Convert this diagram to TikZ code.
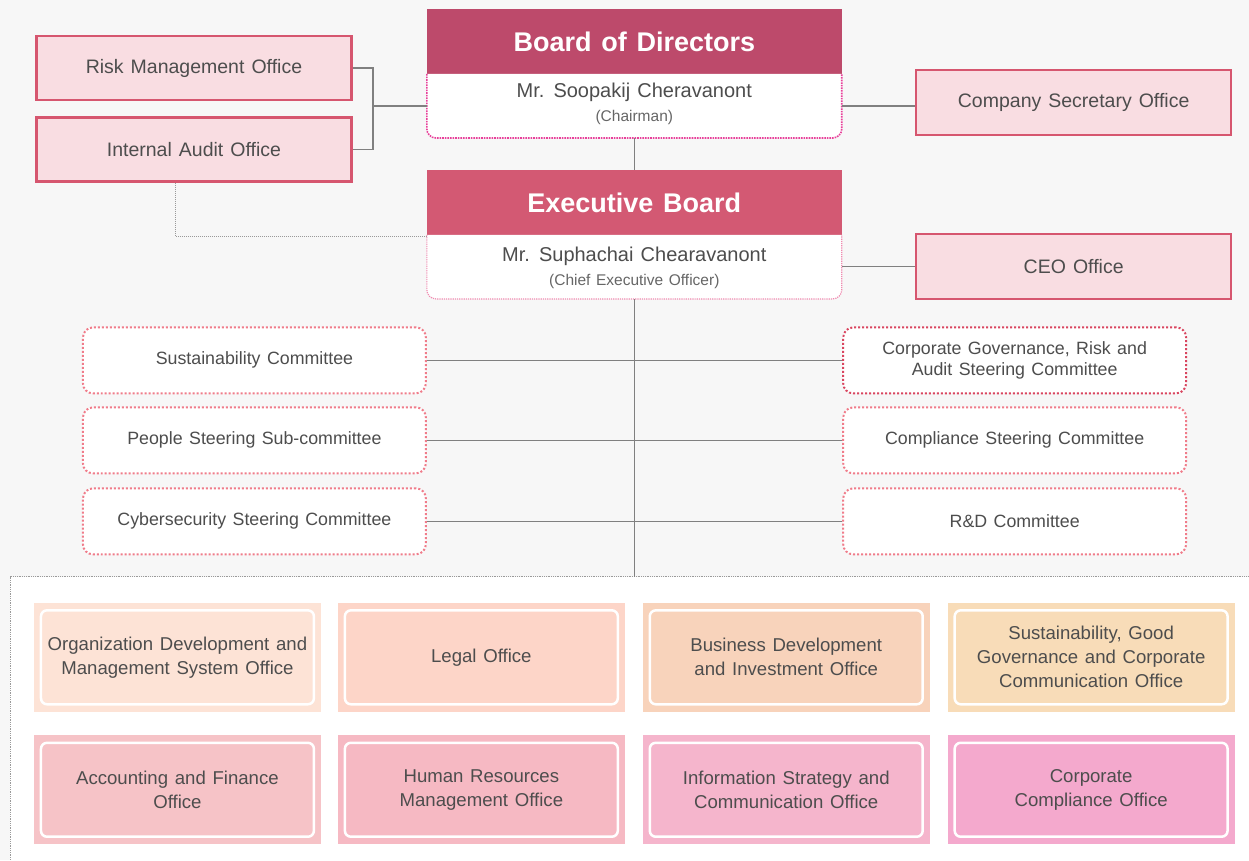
\documentclass[tikz,border=0pt]{standalone}
\usepackage{fontspec}
\setmainfont{Liberation Sans}[WordSpace=1.3]
\definecolor{bgtop}{HTML}{F7F7F7}
\definecolor{txt}{HTML}{4D4D4D}
\definecolor{txtl}{HTML}{666666}
\definecolor{bodc}{HTML}{BD4A6B}
\definecolor{exc}{HTML}{D35973}
\definecolor{offfill}{HTML}{F9DDE2}
\definecolor{offdraw}{HTML}{D6566F}
\definecolor{linec}{HTML}{808080}
\definecolor{dotpink}{HTML}{E8409A}
\definecolor{dotpinkl}{HTML}{F08AB0}
\definecolor{comdot}{HTML}{F07C8A}
\definecolor{comdotd}{HTML}{D9455F}
\definecolor{ra}{HTML}{FDE3D6}
\definecolor{rb}{HTML}{FDD5C8}
\definecolor{rc}{HTML}{F8D3BB}
\definecolor{rd}{HTML}{F8DCB8}
\definecolor{sa}{HTML}{F6C3C7}
\definecolor{sb}{HTML}{F6B9C3}
\definecolor{sc}{HTML}{F5B5CC}
\definecolor{sd}{HTML}{F4A9CD}
\begin{document}
\begin{tikzpicture}[x=1pt,y=-1pt,
  header/.style={minimum width=415pt,minimum height=65pt,inner sep=0pt,text=white,
    font=\fontsize{27}{31}\selectfont\bfseries},
  office/.style={draw=offdraw,line width=2.5pt,fill=offfill,minimum width=315pt,minimum height=64pt,
    inner sep=0pt,text=txt,font=\fontsize{19.5}{23}\selectfont},
  comm/.style={draw=comdot,line width=2pt,dotted,rounded corners=10pt,fill=white,
    minimum width=343pt,minimum height=66pt,inner sep=0pt,text=txt,align=center,
    font=\fontsize{17.8}{21}\selectfont},
  conn/.style={draw=linec,line width=1.3pt},
  unit/.style={minimum width=287pt,minimum height=109pt,inner sep=0pt},
  unitin/.style={draw=white,line width=2.5pt,rounded corners=6pt,minimum width=273pt,
    minimum height=94pt,inner sep=0pt,text=txt,align=center,font=\fontsize{18.6}{24}\selectfont},
  pname/.style={text=txt,font=\fontsize{20}{24}\selectfont,inner sep=0pt},
  prole/.style={text=txtl,font=\fontsize{15.5}{18}\selectfont,inner sep=0pt}
]
% backgrounds
\fill[bgtop] (0,0) rectangle (1249,860);
\fill[white] (10,577) rectangle (1249,860);
\draw[linec!80,line width=0.8pt,densely dotted] (10,860) -- (10,577) -- (1249,577);
\useasboundingbox (0,0) rectangle (1249,860);

% Board of Directors
\node[header,fill=bodc] (bod) at (634.5,41.5) {Board of Directors};
\filldraw[fill=white,draw=dotpink,line width=1.6pt,densely dotted,rounded corners=9pt]
  (427,74) -- (427,138) -- (842,138) -- (842,74);
\node[minimum width=415pt,minimum height=64pt,inner sep=0pt] (bodw) at (634.5,106) {};
\node[pname] (bodn) at (634.5,92.5) {Mr. Soopakij Cheravanont};
\node[prole] (bodr) at (634.5,118) {(Chairman)};

% Executive Board
\node[header,fill=exc] (exh) at (634.5,203) {Executive Board};
\filldraw[fill=white,draw=dotpinkl,line width=1.2pt,densely dotted,rounded corners=9pt]
  (427,235) -- (427,299) -- (842,299) -- (842,235);
\node[minimum width=415pt,minimum height=64pt,inner sep=0pt] (exw) at (634.5,267) {};
\node[pname] (exn) at (634.5,256.5) {Mr. Suphachai Chearavanont};
\node[prole] (exr) at (634.5,282) {(Chief Executive Officer)};

% offices
\node[office] (risk) at (194,68) {Risk Management Office};
\node[office] (audit) at (194,149.5) {Internal Audit Office};
\node[office,minimum height=65pt] (sec) at (1074,102.5) {Company Secretary Office};
\node[office,minimum height=65pt] (ceo) at (1074,266.5) {CEO Office};

% connectors top
\coordinate (br) at (373,106);
\draw[conn] (risk.east) -| (br) |- (audit.east);
\draw[conn] (br) -- (bodw.west);
\draw[conn] (bodw.east) -- (bodw.east -| sec.west);
\draw[conn] (exw.east |- ceo.west) -- (ceo.west);
\draw[conn] (bodw.south) -- (exh.north);
\coordinate (adot) at (176,183);
\coordinate (edot) at (427,237);
\draw[linec!80,line width=1pt,densely dotted] (adot) |- (edot);

% committees
\node[comm] (c1) at (254.5,360.5) {Sustainability Committee};
\node[comm] (c2) at (254.5,440.5) {People Steering Sub-committee};
\node[comm] (c3) at (254.5,521.5) {Cybersecurity Steering Committee};
\node[comm,draw=comdotd] (d1) at (1015,360.5) {Corporate Governance, Risk and\\Audit Steering Committee};
\node[comm] (d2) at (1015,440.5) {Compliance Steering Committee};
\node[comm] (d3) at (1015,521.5) {R\&D Committee};
\coordinate (vb) at (634.5,577);
\draw[conn] (exw.south) -- (vb);
\draw[conn] (c1.east) -- (d1.west);
\draw[conn] (c2.east) -- (d2.west);
\draw[conn] (c3.east) -- (d3.west);

% bottom units
\foreach \n/\x/\y/\c/\t in {
  u1/177.5/657.5/ra/{Organization Development and\\Management System Office},
  u2/481.5/657.5/rb/{Legal Office},
  u3/786.5/657.5/rc/{Business Development\\and Investment Office},
  u4/1091.5/657.5/rd/{Sustainability, Good\\Governance and Corporate\\Communication Office},
  v1/177.5/790/sa/{Accounting and Finance\\Office},
  v2/481.5/790/sb/{Human Resources\\Management Office},
  v3/786.5/790/sc/{Information Strategy and\\Communication Office},
  v4/1091.5/790/sd/{Corporate\\Compliance Office}}{
  \node[unit,fill=\c] (\n) at (\x,\y) {};
  \node[unitin] (\n i) at (\n) {\t};
}
\end{tikzpicture}
\end{document}
